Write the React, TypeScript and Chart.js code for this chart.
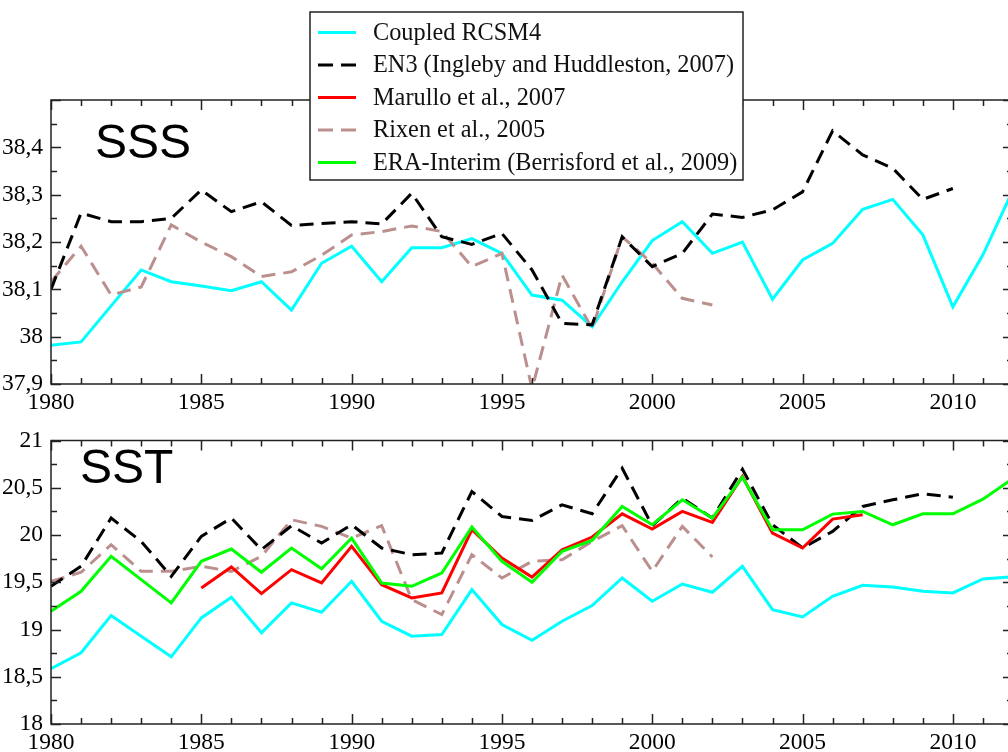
import React, { useEffect, useRef } from 'react';
import { Chart, registerables } from 'chart.js';

Chart.register(...registerables);

// ---------------- data ----------------
const years = [
  1980, 1981, 1982, 1983, 1984, 1985, 1986, 1987, 1988, 1989,
  1990, 1991, 1992, 1993, 1994, 1995, 1996, 1997, 1998, 1999,
  2000, 2001, 2002, 2003, 2004, 2005, 2006, 2007, 2008, 2009,
  2010, 2011, 2012,
];

const legendLabels = [
  'Coupled RCSM4',
  'EN3 (Ingleby and Huddleston, 2007)',
  'Marullo et al., 2007',
  'Rixen et al., 2005',
  'ERA-Interim (Berrisford et al., 2009)',
];

const panelTitles = ['SSS', 'SST'];

// SSS
const sssCoupled = [
  37.982, 37.989, 38.065, 38.141, 38.116, 38.107, 38.097, 38.116, 38.056, 38.155,
  38.191, 38.116, 38.188, 38.188, 38.207, 38.176, 38.088, 38.077, 38.021, 38.116,
  38.203, 38.243, 38.176, 38.2, 38.079, 38.162, 38.197, 38.269, 38.29, 38.215,
  38.063, 38.173, 38.31,
];
const sssEN3 = [
  38.1, 38.261, 38.243, 38.243, 38.25, 38.31, 38.264, 38.285, 38.235, 38.239,
  38.243, 38.238, 38.303, 38.211, 38.195, 38.218, 38.141, 38.028, 38.025, 38.211,
  38.148, 38.176, 38.259, 38.252, 38.268, 38.306, 38.435, 38.384, 38.356, 38.29,
  38.313, null, null,
];
const sssRixen = [
  38.116, 38.191, 38.088, 38.105, 38.236, 38.2, 38.169, 38.127, 38.137, 38.172,
  38.215, 38.222, 38.234, 38.222, 38.148, 38.176, 37.89, 38.13, 38.017, 38.211,
  38.155, 38.081, 38.067, null, null, null, null, null, null, null,
  null, null, null,
];

// SST
const sstCoupled = [
  18.585, 18.754, 19.148, 18.93, 18.711, 19.123, 19.342, 18.965, 19.282, 19.183,
  19.511, 19.088, 18.93, 18.947, 19.423, 19.053, 18.887, 19.088, 19.254, 19.546,
  19.3, 19.482, 19.394, 19.669, 19.211, 19.134, 19.352, 19.468, 19.451, 19.405,
  19.387, 19.535, 19.56,
];
const sstEN3 = [
  19.458, 19.669, 20.18, 19.933, 19.563, 19.986, 20.18, 19.845, 20.099, 19.915,
  20.109, 19.863, 19.792, 19.81, 20.461, 20.197, 20.155, 20.32, 20.225, 20.708,
  20.099, 20.39, 20.18, 20.697, 20.109, 19.863, 20.039, 20.303, 20.373, 20.437,
  20.401, null, null,
];
const sstMarullo = [
  null, null, null, null, null, 19.44, 19.662, 19.38, 19.634, 19.493,
  19.88, 19.475, 19.335, 19.387, 20.056, 19.757, 19.556, 19.845, 19.979, 20.225,
  20.063, 20.25, 20.134, 20.62, 20.021, 19.863, 20.169, 20.215, null, null,
  null, null, null,
];
const sstRixen = [
  19.51, 19.606, 19.898, 19.616, 19.616, 19.669, 19.616, 19.775, 20.162, 20.092,
  19.968, 20.099, 19.317, 19.158, 19.792, 19.546, 19.722, 19.739, 19.933, 20.099,
  19.616, 20.092, 19.768, null, null, null, null, null, null, null,
  null, null, null,
];
const sstERA = [
  19.194, 19.405, 19.775, 19.528, 19.282, 19.722, 19.852, 19.606, 19.863, 19.644,
  19.968, 19.493, 19.458, 19.599, 20.085, 19.722, 19.5, 19.827, 19.944, 20.303,
  20.109, 20.373, 20.18, 20.613, 20.056, 20.056, 20.222, 20.25, 20.109, 20.225,
  20.225, 20.38, 20.6,
];

// ---------------- styles ----------------
const COLORS = ['#00ffff', '#000000', '#ff0000', '#bc8f8f', '#00ff00'];
const DASHES: number[][] = [[], [14, 8], [], [14, 8], []];
const SERIF = '"Liberation Serif", "Times New Roman", serif';
const SANS = '"Liberation Sans", Arial, sans-serif';

const toPoints = (vals: (number | null)[]) =>
  years.map((yr, i) => ({ x: yr, y: vals[i] }));

const makeDataset = (idx: number, vals: (number | null)[], order: number) => ({
  label: legendLabels[idx],
  data: toPoints(vals),
  borderColor: COLORS[idx],
  backgroundColor: COLORS[idx],
  borderWidth: 3,
  borderDash: DASHES[idx],
  pointRadius: 0,
  tension: 0,
  spanGaps: false,
  order,
});

const fmt = (v: number) => String(Math.round(v * 100) / 100).replace('.', ',');

function framePlugin(cfg: {
  title: string;
  titleX: number;
  titleY: number;
  minorStep: number;
  showLegend: boolean;
}) {
  return {
    id: 'frameAndDecor',
    afterDraw(chart: any) {
      const { ctx, chartArea: a, scales } = chart;
      const xs = scales.x;
      const ys = scales.y;
      ctx.save();
      ctx.strokeStyle = '#222';
      ctx.lineWidth = 1.5;
      ctx.beginPath();
      ctx.rect(a.left, a.top, a.right - a.left, a.bottom - a.top);
      ctx.stroke();
      ctx.beginPath();
      for (let yr = xs.min; yr <= xs.max; yr++) {
        const px = Math.round(xs.getPixelForValue(yr)) + 0.5;
        const len = yr % 5 === 0 ? 10 : 6;
        ctx.moveTo(px, a.bottom);
        ctx.lineTo(px, a.bottom - len);
        ctx.moveTo(px, a.top);
        ctx.lineTo(px, a.top + len);
      }
      const n = Math.round((ys.max - ys.min) / cfg.minorStep);
      for (let i = 0; i <= n; i++) {
        const v = ys.min + i * cfg.minorStep;
        const py = Math.round(ys.getPixelForValue(v)) + 0.5;
        const len = i % 2 === 0 ? 10 : 6;
        ctx.moveTo(a.left, py);
        ctx.lineTo(a.left + len, py);
        ctx.moveTo(a.right, py);
        ctx.lineTo(a.right - len, py);
      }
      ctx.stroke();

      // panel title
      ctx.fillStyle = '#000';
      ctx.font = `48px ${SANS}`;
      ctx.textAlign = 'left';
      ctx.textBaseline = 'alphabetic';
      ctx.fillText(cfg.title, cfg.titleX, cfg.titleY);

      if (cfg.showLegend) {
        const bx = 310, by = 12, bw = 433, bh = 168;
        ctx.fillStyle = '#fff';
        ctx.fillRect(bx, by, bw, bh);
        ctx.strokeStyle = '#222';
        ctx.lineWidth = 1.5;
        ctx.strokeRect(bx, by, bw, bh);
        ctx.font = `24.3px ${SERIF}`;
        ctx.textBaseline = 'middle';
        legendLabels.forEach((lab, i) => {
          const cy = 32.5 + i * 32.5;
          ctx.beginPath();
          ctx.strokeStyle = COLORS[i];
          ctx.lineWidth = 3;
          ctx.setLineDash(DASHES[i].length ? [15, 8] : []);
          ctx.moveTo(318, cy);
          ctx.lineTo(356, cy);
          ctx.stroke();
          ctx.setLineDash([]);
          ctx.fillStyle = '#111';
          ctx.fillText(lab, 373, cy + 1);
        });
      }
      ctx.restore();
    },
  };
}

function Panel(props: {
  top: number;
  height: number;
  padTop: number;
  axisH: number;
  yMin: number;
  yMax: number;
  yStep: number;
  hideTopLabel: boolean;
  datasets: any[];
  title: string;
  titleX: number;
  titleY: number;
  showLegend: boolean;
}) {
  const ref = useRef<HTMLCanvasElement | null>(null);
  useEffect(() => {
    if (!ref.current) return;
    const chart = new Chart(ref.current, {
      type: 'line',
      data: { datasets: props.datasets },
      options: {
        responsive: false,
        animation: false,
        layout: { padding: { top: props.padTop, right: 7, left: 0, bottom: 0 } },
        plugins: { legend: { display: false }, tooltip: { enabled: false } },
        scales: {
          x: {
            type: 'linear',
            min: 1980,
            max: 2012,
            grid: { display: false, drawTicks: false },
            border: { display: false },
            ticks: {
              stepSize: 5,
              includeBounds: false,
              autoSkip: false,
              maxRotation: 0,
              padding: 5,
              color: '#000',
              font: { family: SERIF, size: 23.5 },
              callback: (v: any) => String(v),
            },
            afterFit: (s: any) => {
              s.height = props.axisH;
            },
          },
          y: {
            type: 'linear',
            min: props.yMin,
            max: props.yMax,
            grid: { display: false, drawTicks: false },
            border: { display: false },
            ticks: {
              stepSize: props.yStep,
              includeBounds: false,
              autoSkip: false,
              padding: 8,
              color: '#000',
              font: { family: SERIF, size: 23.5 },
              callback: (v: any) => {
                if (props.hideTopLabel && v > props.yMax - props.yStep / 2) return '';
                return fmt(Number(v));
              },
            },
            afterFit: (s: any) => {
              s.width = 51;
            },
          },
        },
      } as any,
      plugins: [
        framePlugin({
          title: props.title,
          titleX: props.titleX,
          titleY: props.titleY,
          minorStep: props.yStep / 2,
          showLegend: props.showLegend,
        }),
      ],
    });
    return () => chart.destroy();
  }, []);
  return (
    <div style={{ position: 'absolute', left: 0, top: props.top, width: 1020, height: props.height }}>
      <canvas ref={ref} width={1020} height={props.height} style={{ width: 1020, height: props.height, display: 'block' }} />
    </div>
  );
}

export default function App() {
  const sssSets = [
    makeDataset(0, sssCoupled, 3),
    makeDataset(3, sssRixen, 2),
    makeDataset(1, sssEN3, 1),
  ];
  const sstSets = [
    makeDataset(0, sstCoupled, 5),
    makeDataset(3, sstRixen, 4),
    makeDataset(1, sstEN3, 3),
    makeDataset(2, sstMarullo, 2),
    makeDataset(4, sstERA, 1),
  ];
  return (
    <div
      style={{
        position: 'fixed',
        left: 0,
        top: 0,
        width: 1008,
        height: 752,
        overflow: 'hidden',
        background: '#fff',
      }}
    >
      <Panel
        top={416}
        height={336}
        padTop={24.6}
        axisH={28}
        yMin={18}
        yMax={21}
        yStep={0.5}
        hideTopLabel={false}
        datasets={sstSets}
        title={panelTitles[1]}
        titleX={80}
        titleY={67}
        showLegend={false}
      />
      <Panel
        top={0}
        height={416}
        padTop={100}
        axisH={32}
        yMin={37.9}
        yMax={38.5}
        yStep={0.1}
        hideTopLabel={true}
        datasets={sssSets}
        title={panelTitles[0]}
        titleX={95}
        titleY={158}
        showLegend={true}
      />
    </div>
  );
}
